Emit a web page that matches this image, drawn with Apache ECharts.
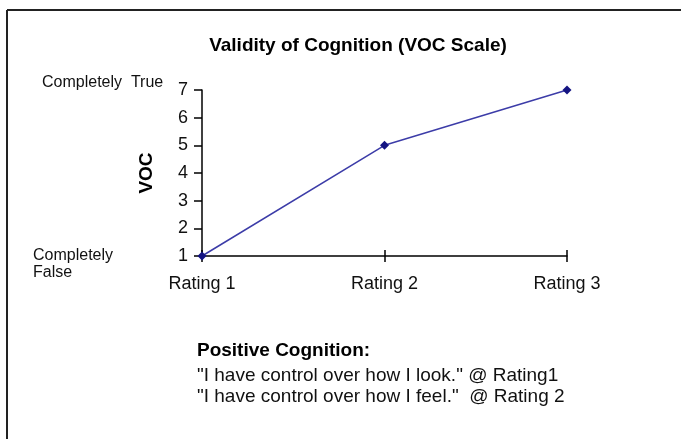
<!DOCTYPE html>
<html><head><meta charset="utf-8">
<script src="https://cdn.jsdelivr.net/npm/echarts@6/dist/echarts.min.js"></script>
<style>html,body{margin:0;padding:0;background:#fff}#c{width:681px;height:439px}</style>
</head><body><div id="c"></div>
<script>
const categories = ['Rating 1', 'Rating 2', 'Rating 3'];
const vocValues = [1, 5, 7];
const yTicks = [1, 2, 3, 4, 5, 6, 7];
const titleText = 'Validity of Cognition (VOC Scale)';
const yAxisName = 'VOC';
const noteLines = ['Positive Cognition:', '"I have control over how I look." @ Rating1', '"I have control over how I feel."  @ Rating 2'];

const F = '"Liberation Sans", Arial, sans-serif';
const chart = echarts.init(document.getElementById('c'));
chart.setOption({
  animation: false,
  backgroundColor: '#fff',
  title: { text: titleText, left: 353, textAlign: 'center', top: 31,
    textStyle: { fontFamily: F, fontSize: 19, fontWeight: 'bold', color: '#000' } },
  grid: { left: 202, right: 114, top: 90, bottom: 183, containLabel: false },
  xAxis: [{
    type: 'category', data: categories, boundaryGap: false,
    axisLine: { lineStyle: { color: '#000', width: 1.5 } },
    axisTick: { show: true, length: 6, alignWithLabel: true, lineStyle: { color: '#000', width: 1.5 } },
    axisLabel: { margin: 19, fontFamily: F, fontSize: 18, color: '#111' },
    splitLine: { show: false }
  }, {
    type: 'category', data: categories, boundaryGap: false, position: 'bottom',
    axisLine: { show: false },
    axisTick: { show: true, inside: true, length: 6, lineStyle: { color: '#000', width: 1.5 } },
    axisLabel: { show: false }, splitLine: { show: false }
  }],
  yAxis: {
    type: 'value', min: yTicks[0], max: yTicks[yTicks.length - 1], interval: 1,
    name: yAxisName, nameLocation: 'middle', nameGap: 46, nameRotate: 90,
    nameTextStyle: { fontFamily: F, fontSize: 19, fontWeight: 'bold', color: '#000' },
    axisLine: { show: true, lineStyle: { color: '#000', width: 1.5 } },
    axisTick: { show: true, length: 8, lineStyle: { color: '#000', width: 1.5 } },
    axisLabel: { margin: 14, fontFamily: F, fontSize: 18, color: '#111' },
    splitLine: { show: false }
  },
  series: [{
    type: 'line', data: vocValues, xAxisIndex: 0,
    symbol: 'diamond', symbolSize: 9, clip: false,
    lineStyle: { color: '#3c3ca8', width: 1.5 },
    itemStyle: { color: '#141482' }
  }],
  graphic: [
    { type: 'line', shape: { x1: 7, y1: 10, x2: 681, y2: 10 }, style: { stroke: '#222', lineWidth: 2 } },
    { type: 'line', shape: { x1: 7, y1: 10, x2: 7, y2: 439 }, style: { stroke: '#222', lineWidth: 2 } },
    { type: 'text', x: 42, y: 83, style: { text: 'Completely  True', font: '16px ' + F, fill: '#111', textVerticalAlign: 'middle' } },
    { type: 'text', x: 33, y: 256, style: { text: 'Completely', font: '16px ' + F, fill: '#111', textVerticalAlign: 'middle' } },
    { type: 'text', x: 33, y: 273, style: { text: 'False', font: '16px ' + F, fill: '#111', textVerticalAlign: 'middle' } },
    { type: 'text', x: 197, y: 351, style: { text: noteLines[0], font: 'bold 19px ' + F, fill: '#000', textVerticalAlign: 'middle' } },
    { type: 'text', x: 197, y: 376, style: { text: noteLines[1], font: '19px ' + F, fill: '#111', textVerticalAlign: 'middle' } },
    { type: 'text', x: 197, y: 397, style: { text: noteLines[2], font: '19px ' + F, fill: '#111', textVerticalAlign: 'middle' } }
  ]
});
</script></body></html>
